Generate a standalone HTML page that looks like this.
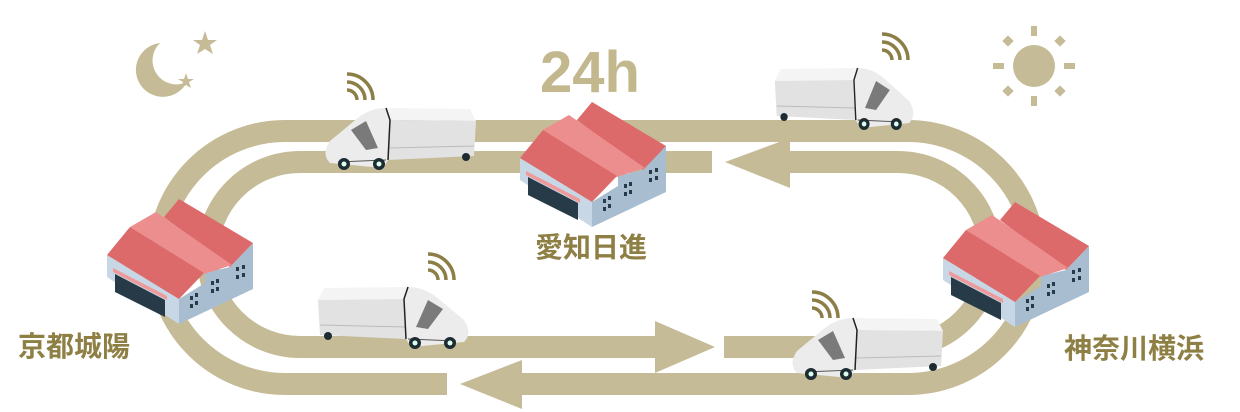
<!DOCTYPE html>
<html><head><meta charset="utf-8"><style>
html,body{margin:0;padding:0;background:#fff;width:1240px;height:412px;overflow:hidden}
svg{display:block}
.lbl{font-family:"Liberation Sans","Noto Sans CJK JP",sans-serif;font-weight:bold;fill:#8e7f45}
</style></head><body>
<svg width="1240" height="412" viewBox="0 0 1240 412" xmlns="http://www.w3.org/2000/svg">
<defs>
<g id="fac">
  <polygon points="592,227 592,202 618,186 618,176 643,170 666,146 666,192" fill="#a9bdd0"/>
  <polygon points="520,158 592,202 592,227 520,180" fill="#c8d7e5"/>
  <polygon points="528,177 578,203 578,220 528,195" fill="#263a47"/>
  <polygon points="526,171 580,199 580,203 526,175" fill="#ee9a9a"/>
  <polygon points="577,120 592,102 666,146 643,170" fill="#dc6a6a"/>
  <polygon points="543,130 569,115 645,168 617,177" fill="#ec8e8e"/>
  <polygon points="520,158 543,130 617,176 592,202" fill="#dc6a6a"/>
  <g fill="#263a47">
    <rect x="603" y="199" width="3" height="4"/><rect x="608" y="196" width="3" height="4"/>
    <rect x="603" y="207" width="3" height="4"/><rect x="608" y="204" width="3" height="4"/>
    <rect x="624" y="184" width="3" height="4"/><rect x="629" y="182" width="3" height="4"/>
    <rect x="624" y="192" width="3" height="4"/><rect x="629" y="190" width="3" height="4"/>
    <rect x="649" y="170" width="3" height="4"/><rect x="655" y="168" width="3" height="4"/>
    <rect x="649" y="178" width="3" height="4"/><rect x="655" y="176" width="3" height="4"/>
  </g>
</g>
<g id="truck">
  <polygon points="8,1 92,0 88,12 2,13" fill="#f4f4f4"/>
  <polygon points="2,13 88,12 90,52 4,48" fill="#e2e2e2"/>
  <line x1="4" y1="38" x2="89" y2="40" stroke="#bbb" stroke-width="1"/>
  <path d="M88 12 L92 0 Q110 0 125 14 L148 33 Q157 46 148 55 L95 60 L90 52 Z" fill="#ececec"/>
  <path d="M92 0 L88 12 L90 52" fill="none" stroke="#222" stroke-width="1.5"/>
  <path d="M112 13 L127 22 L112 42 L100 40 Z" fill="#7a7a7a"/>
  <path d="M92 52 L140 54" stroke="#555" stroke-width="1"/>
  <circle cx="99" cy="56" r="6" fill="#1d2b33"/><circle cx="99" cy="56" r="2.5" fill="#dfe"/>
  <circle cx="134" cy="56" r="6" fill="#1d2b33"/><circle cx="134" cy="56" r="2.5" fill="#dfe"/>
  <circle cx="12" cy="49" r="4" fill="#1d2b33"/>
</g>
<g id="wifi" fill="none" stroke="#8c7e47" stroke-width="3.5">
  <path d="M0,-10 A10,10 0 0 1 10,0"/>
  <path d="M0,-18 A18,18 0 0 1 18,0"/>
  <path d="M0,-26 A26,26 0 0 1 26,0"/>
</g>
</defs>

<g fill="none" stroke="#c6bb97" stroke-width="22">
  <path d="M522 384 H908 A126 126 0 0 0 908 131 H285 A126 126 0 0 0 285 384 H447"/>
  <path d="M712 162 H300 A92.5 92.5 0 0 0 300 347 H656"/>
  <path d="M724 347 H898 A92.5 92.5 0 0 0 898 162 H788"/>
</g>
<g fill="#c6bb97">
  <polygon points="460,384 522,360 522,409"/>
  <polygon points="655,321 715,347 655,373"/>
  <polygon points="725,162 790,138 790,188"/>
</g>

<use href="#fac"/>
<use href="#fac" transform="translate(-413,97)"/>
<use href="#fac" transform="translate(423,100)"/>

<use href="#truck" transform="translate(478,108) scale(-1,1)"/>
<use href="#truck" transform="translate(773,68) scale(0.92,1)"/>
<use href="#truck" transform="translate(316,287)"/>
<use href="#truck" transform="translate(945,318) scale(-1,1)"/>

<use href="#wifi" transform="translate(347,100)"/>
<use href="#wifi" transform="translate(882,60)"/>
<use href="#wifi" transform="translate(428,280)"/>
<use href="#wifi" transform="translate(812,318)"/>

<path d="M160,43 A27,27 0 1 0 187,82 A24,24 0 0 1 160,43 Z" fill="#c6bb97"/>
<polygon fill="#c6bb97" points="205,31 208,40 217,40 210,45 213,54 205,49 197,54 200,45 193,40 202,40"/>
<polygon fill="#c6bb97" points="186,73 188,79 194,79 189,82 191,88 186,85 181,88 183,82 178,79 184,79"/>

<g fill="#c6bb97">
  <circle cx="1034" cy="66" r="21"/>
  <rect x="1031" y="26" width="6" height="10"/>
  <rect x="1031" y="96" width="6" height="10"/>
  <rect x="993" y="63" width="11" height="6"/>
  <rect x="1064" y="63" width="11" height="6"/>
  <rect x="1004" y="37" width="8" height="8" transform="rotate(45 1008 41)"/>
  <rect x="1056" y="37" width="8" height="8" transform="rotate(45 1060 41)"/>
  <rect x="1004" y="87" width="8" height="8" transform="rotate(45 1008 91)"/>
  <rect x="1056" y="87" width="8" height="8" transform="rotate(45 1060 91)"/>
</g>

<text x="540" y="92" font-family="Liberation Sans, sans-serif" font-weight="bold" font-size="58" fill="#c3b78e">24h</text>
<text class="lbl" x="535" y="257" font-size="28">愛知日進</text>
<text class="lbl" x="18" y="356" font-size="28">京都城陽</text>
<text class="lbl" x="1064" y="358" font-size="28">神奈川横浜</text>
</svg>
</body></html>
